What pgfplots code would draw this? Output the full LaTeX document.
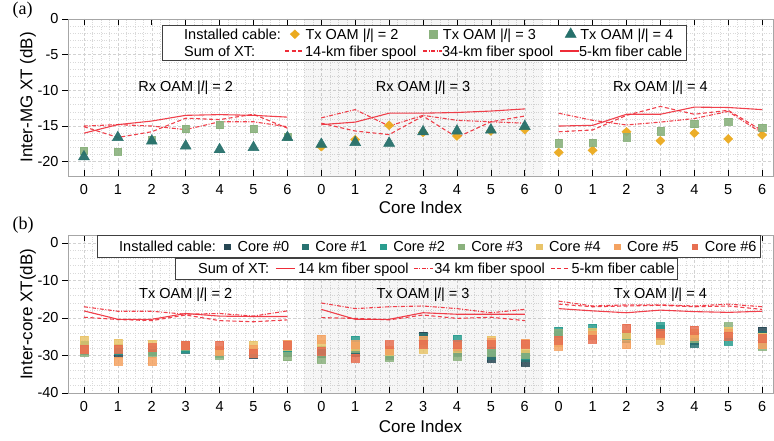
\documentclass[border=0pt]{standalone}
\usepackage{fontspec}
\setmainfont{Liberation Sans}
\newfontfamily\serifpanel{Liberation Serif}
\usepackage{pgfplots}
\usepackage{pgfplotstable}
\pgfplotsset{compat=1.18}

\definecolor{cA}{HTML}{264653}
\definecolor{cB}{HTML}{287271}
\definecolor{cC}{HTML}{2A9D8F}
\definecolor{cD}{HTML}{8AB17D}
\definecolor{cE}{HTML}{E9C46A}
\definecolor{cF}{HTML}{F4A261}
\definecolor{cG}{HTML}{E76F51}
\definecolor{xtred}{HTML}{EE2C38}
\definecolor{diam}{HTML}{EBAA1E}
\definecolor{sqg}{HTML}{8AB17D}
\definecolor{tri}{HTML}{26706B}

\pgfplotstableread{
x c0 c1 c2 c3 c4 c5 c6
0 -28.6 -27.6 -27.2 -29.0 -25.8 -28.4 -28.2
1 -29.3 -28.7 -28.5 -28.0 -26.6 -31.4 -28.2
2 -28.6 -28.9 -28.5 -29.2 -27.0 -31.6 -27.9
3 -28.0 -28.3 -28.1 -27.5 -27.2 -27.3 -27.3
4 -29.0 -29.1 -29.3 -29.9 -28.6 -28.9 -27.3
5 -29.6 -29.4 -29.0 -29.5 -27.3 -28.4 -29.3
6 -29.0 -28.9 -28.7 -30.3 -27.5 -27.0 -27.2
7 -29.5 -29.0 -28.5 -31.0 -27.0 -25.6 -28.9
8 -29.0 -28.5 -25.8 -28.0 -27.5 -27.1 -30.6
9 -29.5 -29.8 -29.0 -30.4 -28.8 -28.6 -27.1
10 -24.8 -25.2 -25.8 -26.5 -28.2 -25.8 -26.9
11 -28.9 -29.2 -25.6 -30.2 -28.0 -27.5 -27.1
12 -30.6 -30.0 -28.9 -29.0 -25.8 -26.5 -27.1
13 -31.7 -30.5 -30.0 -29.6 -28.0 -26.7 -26.9
14 -25.0 -24.5 -23.6 -24.0 -26.5 -27.5 -25.8
15 -24.5 -24.0 -22.6 -24.2 -23.9 -24.5 -25.6
16 -25.4 -25.5 -25.0 -24.8 -24.2 -27.1 -22.7
17 -24.5 -23.0 -22.3 -24.5 -25.8 -24.5 -24.0
18 -26.0 -26.7 -25.5 -25.3 -24.0 -24.9 -23.2
19 -24.5 -24.8 -26.2 -22.3 -23.4 -24.0 -24.9
20 -23.6 -24.5 -25.0 -27.5 -25.1 -27.1 -25.5
}\coretab

\tikzset{
 dsh/.style={dash pattern=on 4pt off 2.5pt},
 dshdot/.style={dash pattern=on 4pt off 1.5pt on 1pt off 1.5pt},
}
\pgfplotsset{
 lgsolid/.style={legend image code/.code={\draw[xtred, line width=1.1pt] (0pt,0pt) -- (19pt,0pt);}},
 lgdash/.style={legend image code/.code={\draw[xtred, line width=1.1pt, dash pattern=on 4pt off 2.5pt] (0pt,0pt) -- (19pt,0pt);}},
 lgdashdot/.style={legend image code/.code={\draw[xtred, line width=1.1pt, dash pattern=on 4pt off 1.5pt on 1pt off 1.5pt] (0pt,0pt) -- (19pt,0pt);}},
 lgmark/.style={legend image code/.code={\path (0pt,0pt) (19pt,0pt); \path[##1] plot coordinates {(9.5pt,0pt)};}},
 lgmarkb/.style={legend image code/.code={\path (0pt,0pt) (12pt,0pt); \path[##1] plot coordinates {(6pt,0pt)};}},
 lgempty/.style={legend image code/.code={}},
 redl/.style={color=xtred, line width=1.1pt, opacity=0.9},
 myaxis/.style={
  scale only axis, width=705pt,
  xmin=-0.47, xmax=20.32,
  unbounded coords=jump,
  xtick={0,...,20},
  xticklabels={0,1,2,3,4,5,6,0,1,2,3,4,5,6,0,1,2,3,4,5,6},
  axis line style={gray!70, line width=0.6pt},
  tick style={black, line width=0.6pt},
  major tick length=6pt, minor tick length=0pt,
  xtick align=inside, xtick pos=both,
  ytick align=outside, ytick pos=left,
  grid=both,
  major grid style={dash pattern=on 3pt off 2pt, gray!35, line width=0.5pt},
  minor grid style={dotted, gray!30, line width=0.4pt},
  minor x tick num=3, minor y tick num=4,
  tick label style={font=\fontsize{14.5}{17}\selectfont},
  xticklabel style={yshift=-5pt},
  label style={font=\fontsize{17}{20}\selectfont},
  legend cell align=left,
 },
 lgstyle/.style={draw=black!75, fill=white, inner xsep=0pt, inner ysep=#1,
   font=\fontsize{14.5}{16}\selectfont,
   nodes={inner sep=0pt, text height=13.4pt, text depth=3.6pt},
   column sep=0pt, row sep=0pt},
 lgstyleN/.style={draw=none, fill=none, inner xsep=0pt, inner ysep=0pt,
   font=\fontsize{14.5}{16}\selectfont,
   nodes={inner sep=0pt, text height=13.4pt, text depth=3.6pt},
   column sep=0pt, row sep=0pt},
 overlay/.style={scale only axis, width=705pt, anchor=south west,
   hide axis, xmin=0, xmax=1, ymin=0, ymax=1, legend cell align=left},
}

\begin{document}
\begin{tikzpicture}
\useasboundingbox (0,0) rectangle (774pt,441pt);
\node[font=\serifpanel\fontsize{18}{18}\selectfont, anchor=base west] at (9pt,426pt) {(a)};
\node[font=\serifpanel\fontsize{18}{18}\selectfont, anchor=base west] at (9pt,211pt) {(b)};

% ---------------- (a) ----------------
\begin{axis}[myaxis, at={(68pt,265pt)}, anchor=south west, height=157pt,
  ymin=-22, ymax=0,
  ytick={-20,-15,-10,-5,0}, yticklabels={-20,-15,-10,-5,0},
  xlabel={Core Index}, ylabel={Inter-MG XT (dB)},
  xlabel style={at={(axis description cs:0.5,-0.2006)}, anchor=center},
  ylabel style={at={(axis description cs:-0.0567,0.5)}, anchor=center},
]
\fill[black, fill opacity=0.035] (axis cs:6.5,-22) rectangle (axis cs:13.5,0);

% 14-km fiber spool (dashed)
\addplot[redl, dsh] coordinates {
(0,-15.1)(1,-16.6)(2,-15.8)(3,-13.9)(4,-14.1)(5,-13.35)(6,-15.3)(6.5,nan)
(7,-14.6)(8,-15.7)(9,-16.2)(10,-13.6)(11,-16.6)(12,-14.4)(13,-13.6)(13.5,nan)
(14,-15.8)(15,-15.55)(16,-13.5)(17,-12.25)(18,-13.35)(19,-12.8)(20,-15.65)};
% 34-km fiber spool (dash-dot)
\addplot[redl, dshdot] coordinates {
(0,-15.0)(1,-14.8)(2,-15.0)(3,-15.5)(4,-14.4)(5,-14.4)(6,-15.1)(6.5,nan)
(7,-13.85)(8,-12.7)(9,-15.0)(10,-13.5)(11,-14.2)(12,-14.4)(13,-14.6)(13.5,nan)
(14,-13.2)(15,-14.2)(16,-14.85)(17,-14.45)(18,-13.95)(19,-12.95)(20,-16.0)};
% 5-km fiber cable (solid)
\addplot[redl] coordinates {
(0,-16.0)(1,-14.8)(2,-14.3)(3,-13.5)(4,-13.4)(5,-13.5)(6,-13.75)(6.5,nan)
(7,-14.8)(8,-14.45)(9,-13.2)(10,-13.2)(11,-13.1)(12,-12.9)(13,-12.6)(13.5,nan)
(14,-15.0)(15,-14.9)(16,-13.35)(17,-13.35)(18,-12.35)(19,-12.4)(20,-12.7)};

% Tx OAM 2 (diamonds)
\addplot[only marks, mark=diamond*, color=diam, mark size=4.4pt, mark options={xscale=1.4}, opacity=0.95] coordinates {
(7,-17.9)(8,-16.9)(9,-14.9)(10,-15.9)(11,-16.4)(12,-15.7)(13,-15.5)
(14,-18.7)(15,-18.4)(16,-15.8)(17,-17.05)(18,-16.0)(19,-16.8)(20,-16.25)};
% Tx OAM 3 (squares)
\addplot[only marks, mark=square*, color=sqg, mark size=3.7pt, opacity=0.9] coordinates {
(0,-18.45)(1,-18.6)(2,-16.9)(3,-15.4)(4,-14.85)(5,-15.4)(6,-16.5)
(14,-17.4)(15,-17.3)(16,-16.55)(17,-15.7)(18,-14.7)(19,-14.4)(20,-15.2)};
% Tx OAM 4 (triangles)
\addplot[only marks, mark=triangle*, color=tri, mark size=6.4pt, opacity=0.95] coordinates {
(0,-19.3)(1,-16.6)(2,-17.1)(3,-17.8)(4,-18.3)(5,-18.0)(6,-16.6)
(7,-17.55)(8,-17.3)(9,-17.4)(10,-15.8)(11,-15.7)(12,-15.55)(13,-15.05)};

\node[font=\fontsize{14.5}{17}\selectfont, anchor=base] at (axis cs:3,-10.2) {Rx OAM |\textit{l}| = 2};
\node[font=\fontsize{14.5}{17}\selectfont, anchor=base] at (axis cs:10,-10.2) {Rx OAM |\textit{l}| = 3};
\node[font=\fontsize{14.5}{17}\selectfont, anchor=base] at (axis cs:17,-10.2) {Rx OAM |\textit{l}| = 4};
\end{axis}

% frame of legend (a)
\draw[black!75, line width=0.6pt, fill=white] (162pt,416pt) rectangle (686pt,381pt);

% legend of (a), row 1
\begin{axis}[overlay, at={(68pt,265pt)}, height=157pt,
  legend columns=4,
  legend style={lgstyleN, at={(axis description cs:0.1333,0.9586)}, anchor=north west},
]
\addlegendimage{lgempty}
\addlegendentry{\makebox[123pt][l]{\hspace*{22pt}Installed cable:}}
\addlegendimage{lgmark, mark=diamond*, color=diam, mark size=4.4pt, mark options={xscale=1.4}}
\addlegendentry{\makebox[119pt][l]{\hspace*{1pt}Tx OAM |\textit{l}| = 2}}
\addlegendimage{lgmark, mark=square*, color=sqg, mark size=3.7pt}
\addlegendentry{\makebox[118pt][l]{Tx OAM |\textit{l}| = 3}}
\addlegendimage{lgmark, mark=triangle*, color=tri, mark size=6.4pt}
\addlegendentry{\makebox[107pt][l]{Tx OAM |\textit{l}| = 4}}
\end{axis}

% legend of (a), row 2: key lines drawn as plots in the overlay axis
\begin{axis}[overlay, at={(68pt,265pt)}, height=157pt,
  legend columns=4,
  legend style={lgstyleN, at={(axis description cs:0.1333,0.8503)}, anchor=north west},
]
\addplot[forget plot, color=xtred, line width=1.1pt, dsh] coordinates {(0.30780,0.79618) (0.33475,0.79618)};
\addplot[forget plot, color=xtred, line width=1.1pt, dshdot] coordinates {(0.50355,0.79618) (0.53050,0.79618)};
\addplot[forget plot, color=xtred, line width=1.1pt] coordinates {(0.69787,0.79618) (0.72482,0.79618)};
\addlegendimage{lgempty}
\addlegendentry{\makebox[123pt][l]{\hspace*{22pt}Sum of XT:}}
\addlegendimage{lgempty}
\addlegendentry{\makebox[138pt][l]{\hspace*{20pt}14-km fiber spool}}
\addlegendimage{lgempty}
\addlegendentry{\makebox[137pt][l]{\hspace*{19pt}34-km fiber spool}}
\addlegendimage{lgempty}
\addlegendentry{\makebox[126pt][l]{\hspace*{19pt}5-km fiber cable}}
\end{axis}

% ---------------- (b) ----------------
\begin{axis}[myaxis, at={(68pt,48pt)}, anchor=south west, height=157.5pt,
  ymin=-40, ymax=2,
  ytick={-40,-30,-20,-10,0}, yticklabels={-40,-30,-20,-10,0},
  xlabel={Core Index}, ylabel={Inter-core XT(dB)},
  xlabel style={at={(axis description cs:0.5,-0.2134)}, anchor=center},
  ylabel style={at={(axis description cs:-0.0567,0.5)}, anchor=center},
]
\fill[black, fill opacity=0.035] (axis cs:6.5,-40) rectangle (axis cs:13.5,2);

% 14 km fiber spool (solid)
\addplot[redl] coordinates {
(0,-18.1)(1,-20.35)(2,-20.35)(3,-18.8)(4,-19.5)(5,-19.6)(6,-19.6)(6.5,nan)
(7,-17.7)(8,-20.35)(9,-20.35)(10,-18.6)(11,-19.0)(12,-19.0)(13,-19.0)(13.5,nan)
(14,-17.5)(15,-18.1)(16,-18.6)(17,-17.9)(18,-18.3)(19,-18.5)(20,-18.2)};
% 34 km fiber spool (dash-dot)
\addplot[redl, dshdot] coordinates {
(0,-17.0)(1,-18.2)(2,-18.2)(3,-19.0)(4,-18.8)(5,-19.5)(6,-18.1)(6.5,nan)
(7,-16.0)(8,-17.5)(9,-17.0)(10,-16.8)(11,-17.5)(12,-18.6)(13,-17.7)(13.5,nan)
(14,-15.5)(15,-16.8)(16,-16.5)(17,-16.5)(18,-16.8)(19,-16.3)(20,-17.0)};
% 5-km fiber cable (dashed)
\addplot[redl, dsh] coordinates {
(0,-19.8)(1,-20.4)(2,-20.7)(3,-19.2)(4,-20.7)(5,-21.0)(6,-20.5)(6.5,nan)
(7,-19.9)(8,-20.1)(9,-20.5)(10,-19.2)(11,-20.1)(12,-19.8)(13,-20.7)(13.5,nan)
(14,-16.3)(15,-17.0)(16,-16.8)(17,-16.6)(18,-17.0)(19,-16.8)(20,-17.7)};

\addplot[only marks, mark=square*, mark size=4pt, color=cA, opacity=0.85] table[x=x,y=c0]{\coretab};
\addplot[only marks, mark=square*, mark size=4pt, color=cB, opacity=0.85] table[x=x,y=c1]{\coretab};
\addplot[only marks, mark=square*, mark size=4pt, color=cC, opacity=0.85] table[x=x,y=c2]{\coretab};
\addplot[only marks, mark=square*, mark size=4pt, color=cD, opacity=0.85] table[x=x,y=c3]{\coretab};
\addplot[only marks, mark=square*, mark size=4pt, color=cE, opacity=0.85] table[x=x,y=c4]{\coretab};
\addplot[only marks, mark=square*, mark size=4pt, color=cF, opacity=0.85] table[x=x,y=c5]{\coretab};
\addplot[only marks, mark=square*, mark size=4pt, color=cG, opacity=0.85] table[x=x,y=c6]{\coretab};

\node[font=\fontsize{14.5}{17}\selectfont, anchor=base] at (axis cs:3,-14.7) {Tx OAM |\textit{l}| = 2};
\node[font=\fontsize{14.5}{17}\selectfont, anchor=base] at (axis cs:10,-14.7) {Tx OAM |\textit{l}| = 3};
\node[font=\fontsize{14.5}{17}\selectfont, anchor=base] at (axis cs:17,-14.7) {Tx OAM |\textit{l}| = 4};
\end{axis}

% legends of (b)
\begin{axis}[overlay, at={(68pt,48pt)}, height=157.5pt,
  legend columns=8,
  legend style={lgstyle=2.5pt, at={(axis description cs:0.0411,1)}, anchor=north west},
]
\addlegendimage{lgempty}
\addlegendentry{\makebox[124pt][l]{\hspace*{22pt}Installed cable:}}
\addlegendimage{lgmarkb, mark=square*, color=cA, mark size=2.9pt}
\addlegendentry{\makebox[65.5pt][l]{\hspace*{4pt}Core \#0}}
\addlegendimage{lgmarkb, mark=square*, color=cB, mark size=2.9pt}
\addlegendentry{\makebox[65.5pt][l]{\hspace*{4pt}Core \#1}}
\addlegendimage{lgmarkb, mark=square*, color=cC, mark size=2.9pt}
\addlegendentry{\makebox[65.5pt][l]{\hspace*{4pt}Core \#2}}
\addlegendimage{lgmarkb, mark=square*, color=cD, mark size=2.9pt}
\addlegendentry{\makebox[65.5pt][l]{\hspace*{4pt}Core \#3}}
\addlegendimage{lgmarkb, mark=square*, color=cE, mark size=2.9pt}
\addlegendentry{\makebox[65.5pt][l]{\hspace*{4pt}Core \#4}}
\addlegendimage{lgmarkb, mark=square*, color=cF, mark size=2.9pt}
\addlegendentry{\makebox[65.5pt][l]{\hspace*{4pt}Core \#5}}
\addlegendimage{lgmarkb, mark=square*, color=cG, mark size=2.9pt}
\addlegendentry{\makebox[59pt][l]{\hspace*{4pt}Core \#6}}
\end{axis}

\begin{axis}[overlay, at={(68pt,48pt)}, height=157.5pt,
  legend columns=4,
  legend style={lgstyle=2pt, at={(axis description cs:0.1518,0.857)}, anchor=north west},
]
\addlegendimage{lgempty}
\addlegendentry{\makebox[100pt][l]{\hspace*{23pt}Sum of XT:}}
\addlegendimage{lgsolid}
\addlegendentry{\makebox[118pt][l]{\hspace*{3pt}14 km fiber spool}}
\addlegendimage{lgdashdot}
\addlegendentry{\makebox[117pt][l]{\hspace*{1pt}34 km fiber spool}}
\addlegendimage{lgdash}
\addlegendentry{\makebox[107pt][l]{\hspace*{1pt}5-km fiber cable}}
\end{axis}
\end{tikzpicture}
\end{document}
